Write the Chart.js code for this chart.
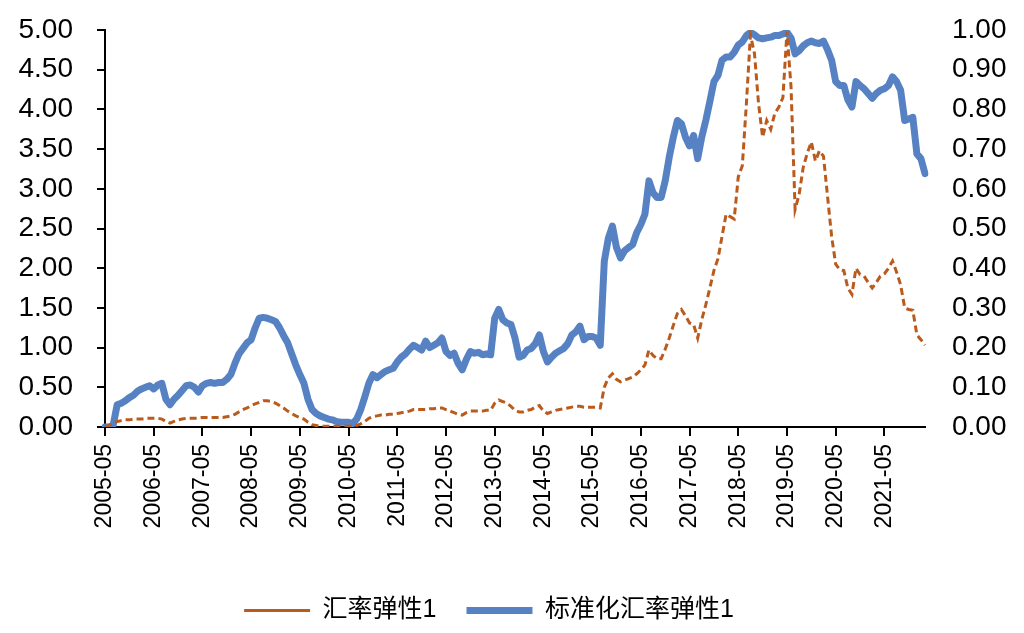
<!DOCTYPE html>
<html>
<head>
<meta charset="utf-8">
<script src="https://cdn.jsdelivr.net/npm/chart.js@4.4.1/dist/chart.umd.min.js"></script>
<style>
  body { margin: 0; background: #fff; }
</style>
</head>
<body>
<canvas id="myChart" width="1024" height="633"></canvas>
<script>
// monthly categories, 2005-05 .. 2022-03
const firstYear = 2005;
const firstMonth = 5;
const monthCount = 203;

// labels shown on the x axis
const tickLabels = [
  '2005-05', '2006-05', '2007-05', '2008-05', '2009-05', '2010-05', '2011-05', '2012-05', '2013-05',
  '2014-05', '2015-05', '2016-05', '2017-05', '2018-05', '2019-05', '2020-05', '2021-05',
];

// 汇率弹性1 (left axis), one row per year starting in May
const elasticity = [
  0.00, 0.02, 0.05, 0.07, 0.08, 0.09, 0.09, 0.10, 0.10, 0.10, 0.11, 0.11,
  0.11, 0.11, 0.10, 0.07, 0.05, 0.07, 0.09, 0.10, 0.11, 0.11, 0.11, 0.11,
  0.12, 0.12, 0.12, 0.12, 0.12, 0.12, 0.13, 0.14, 0.16, 0.19, 0.22, 0.24,
  0.27, 0.29, 0.31, 0.33, 0.33, 0.32, 0.30, 0.27, 0.24, 0.20, 0.17, 0.14,
  0.12, 0.10, 0.06, 0.03, 0.02, 0.01, 0.01, 0.01, 0.01, 0.01, 0.01, 0.01,
  0.01, 0.01, 0.02, 0.04, 0.07, 0.11, 0.13, 0.14, 0.15, 0.15, 0.16, 0.16,
  0.17, 0.18, 0.19, 0.20, 0.22, 0.22, 0.22, 0.22, 0.23, 0.23, 0.24, 0.24,
  0.22, 0.20, 0.18, 0.16, 0.15, 0.18, 0.20, 0.20, 0.20, 0.20, 0.21, 0.21,
  0.30, 0.34, 0.32, 0.30, 0.26, 0.21, 0.19, 0.19, 0.21, 0.22, 0.25, 0.27,
  0.20, 0.17, 0.19, 0.21, 0.22, 0.23, 0.24, 0.25, 0.26, 0.26, 0.25, 0.25,
  0.25, 0.25, 0.24, 0.50, 0.62, 0.67, 0.60, 0.57, 0.59, 0.61, 0.63, 0.67,
  0.72, 0.78, 0.97, 0.90, 0.86, 0.86, 0.98, 1.12, 1.28, 1.43, 1.48, 1.40,
  1.31, 1.29, 1.12, 1.35, 1.54, 1.75, 1.97, 2.12, 2.40, 2.68, 2.65, 2.62,
  3.15, 3.29, 4.07, 4.94, 4.70, 4.07, 3.65, 3.86, 3.75, 3.95, 4.03, 4.15,
  4.98, 4.28, 2.74, 2.93, 3.27, 3.45, 3.59, 3.35, 3.48, 3.41, 2.90, 2.40,
  2.05, 1.98, 1.97, 1.75, 1.67, 2.00, 1.92, 1.90, 1.82, 1.75, 1.82, 1.90,
  1.93, 2.00, 2.09, 1.95, 1.79, 1.50, 1.48, 1.47, 1.16, 1.10, 1.03,
];

// 标准化汇率弹性1 (right axis)
const standardized = [
  0.000, 0.000, 0.004, 0.056, 0.060, 0.066, 0.074, 0.080, 0.090, 0.096, 0.100, 0.104,
  0.096, 0.106, 0.110, 0.070, 0.056, 0.070, 0.080, 0.092, 0.104, 0.106, 0.100, 0.088,
  0.104, 0.110, 0.112, 0.110, 0.112, 0.112, 0.120, 0.132, 0.160, 0.184, 0.198, 0.212,
  0.220, 0.250, 0.274, 0.276, 0.274, 0.270, 0.266, 0.250, 0.230, 0.212, 0.184, 0.156,
  0.132, 0.110, 0.070, 0.044, 0.034, 0.028, 0.024, 0.020, 0.018, 0.014, 0.012, 0.012,
  0.012, 0.008, 0.020, 0.044, 0.076, 0.110, 0.132, 0.124, 0.132, 0.140, 0.144, 0.148,
  0.164, 0.176, 0.184, 0.196, 0.206, 0.200, 0.194, 0.216, 0.200, 0.206, 0.212, 0.224,
  0.190, 0.180, 0.186, 0.160, 0.144, 0.170, 0.190, 0.186, 0.188, 0.182, 0.184, 0.182,
  0.274, 0.296, 0.270, 0.262, 0.258, 0.224, 0.176, 0.180, 0.194, 0.198, 0.210, 0.232,
  0.190, 0.164, 0.176, 0.186, 0.192, 0.198, 0.210, 0.232, 0.240, 0.254, 0.220, 0.228,
  0.228, 0.224, 0.206, 0.418, 0.476, 0.506, 0.452, 0.426, 0.444, 0.452, 0.460, 0.490,
  0.510, 0.536, 0.620, 0.590, 0.578, 0.578, 0.620, 0.680, 0.730, 0.772, 0.764, 0.730,
  0.708, 0.734, 0.676, 0.730, 0.772, 0.820, 0.870, 0.886, 0.924, 0.932, 0.932, 0.944,
  0.962, 0.970, 0.986, 0.994, 0.988, 0.980, 0.978, 0.980, 0.982, 0.986, 0.986, 0.990,
  0.994, 0.980, 0.940, 0.948, 0.960, 0.968, 0.972, 0.968, 0.966, 0.972, 0.950, 0.924,
  0.870, 0.860, 0.860, 0.824, 0.806, 0.870, 0.860, 0.852, 0.840, 0.828, 0.840, 0.848,
  0.852, 0.860, 0.882, 0.870, 0.848, 0.772, 0.776, 0.780, 0.688, 0.676, 0.638,
];

const months = [];
for (let i = 0; i < monthCount; i++) {
  const m = firstMonth - 1 + i;
  const y = firstYear + Math.floor(m / 12);
  months.push(`${y}-${String((m % 12) + 1).padStart(2, '0')}`);
}

const FONT = "'Liberation Sans', Arial, 'Noto Sans CJK SC', sans-serif";

// the original legend sits a little left of the page centre
const legendShift = {
  id: 'legendShift',
  afterLayout(chart) {
    chart.legend.left -= 23;
    chart.legend.right -= 23;
  },
};

// tick padding also pads the chart top in Chart.js, keep it to half a label
const trimPadding = (s) => {
  s.paddingTop = 17;
  s.paddingBottom = 17;
};

const ctx = document.getElementById('myChart').getContext('2d');

const myChart = new Chart(ctx, {
  type: 'line',
  data: {
    labels: months,
    datasets: [
      {
        label: '汇率弹性1',
        data: elasticity,
        yAxisID: 'y',
        borderColor: '#BA5A1C',
        borderWidth: 3,
        borderDash: [7, 4],
        pointRadius: 0,
        pointStyle: 'line',
        tension: 0,
      },
      {
        label: '标准化汇率弹性1',
        data: standardized,
        yAxisID: 'y1',
        borderColor: '#5682C3',
        borderWidth: 7,
        borderCapStyle: 'round',
        borderJoinStyle: 'round',
        pointRadius: 0,
        pointStyle: 'line',
        tension: 0,
      },
    ],
  },
  plugins: [legendShift],
  options: {
    responsive: false,
    animation: false,
    devicePixelRatio: 1,
    layout: {
      padding: { top: 30, bottom: 0, left: 0, right: 0 },
    },
    plugins: {
      legend: {
        position: 'bottom',
        labels: {
          usePointStyle: true,
          pointStyleWidth: 66,
          boxWidth: 66,
          padding: 30,
          color: '#000',
          font: { family: FONT, size: 25 },
        },
      },
      tooltip: {
        enabled: false,
      },
    },
    scales: {
      x: {
        offset: false,
        grid: {
          drawOnChartArea: false,
          color: '#000',
          lineWidth: 2,
          tickLength: 9,
        },
        border: { color: '#000', width: 2 },
        ticks: {
          autoSkip: false,
          maxRotation: 90,
          minRotation: 90,
          padding: 8,
          color: '#000',
          font: { family: FONT, size: 23 },
          callback: (v) => (tickLabels.includes(months[v]) ? months[v] : null),
        },
        afterFit: (s) => {
          s.height = 141;
        },
      },
      y: {
        position: 'left',
        min: 0,
        max: 5,
        ticks: {
          stepSize: 0.5,
          padding: 24,
          color: '#000',
          font: { family: FONT, size: 28 },
          callback: (v) => v.toFixed(2),
        },
        grid: {
          drawOnChartArea: false,
          color: '#000',
          lineWidth: 2,
          tickLength: 8,
        },
        border: { color: '#000', width: 2 },
        afterFit: (s) => {
          s.width = 105;
          trimPadding(s);
        },
      },
      y1: {
        position: 'right',
        min: 0,
        max: 1,
        ticks: {
          stepSize: 0.1,
          padding: 27,
          color: '#000',
          font: { family: FONT, size: 28 },
          callback: (v) => v.toFixed(2),
        },
        grid: { display: false, drawTicks: false },
        border: { display: false },
        afterFit: (s) => {
          s.width = 99;
          trimPadding(s);
        },
      },
    },
  },
});
</script>
</body>
</html>
